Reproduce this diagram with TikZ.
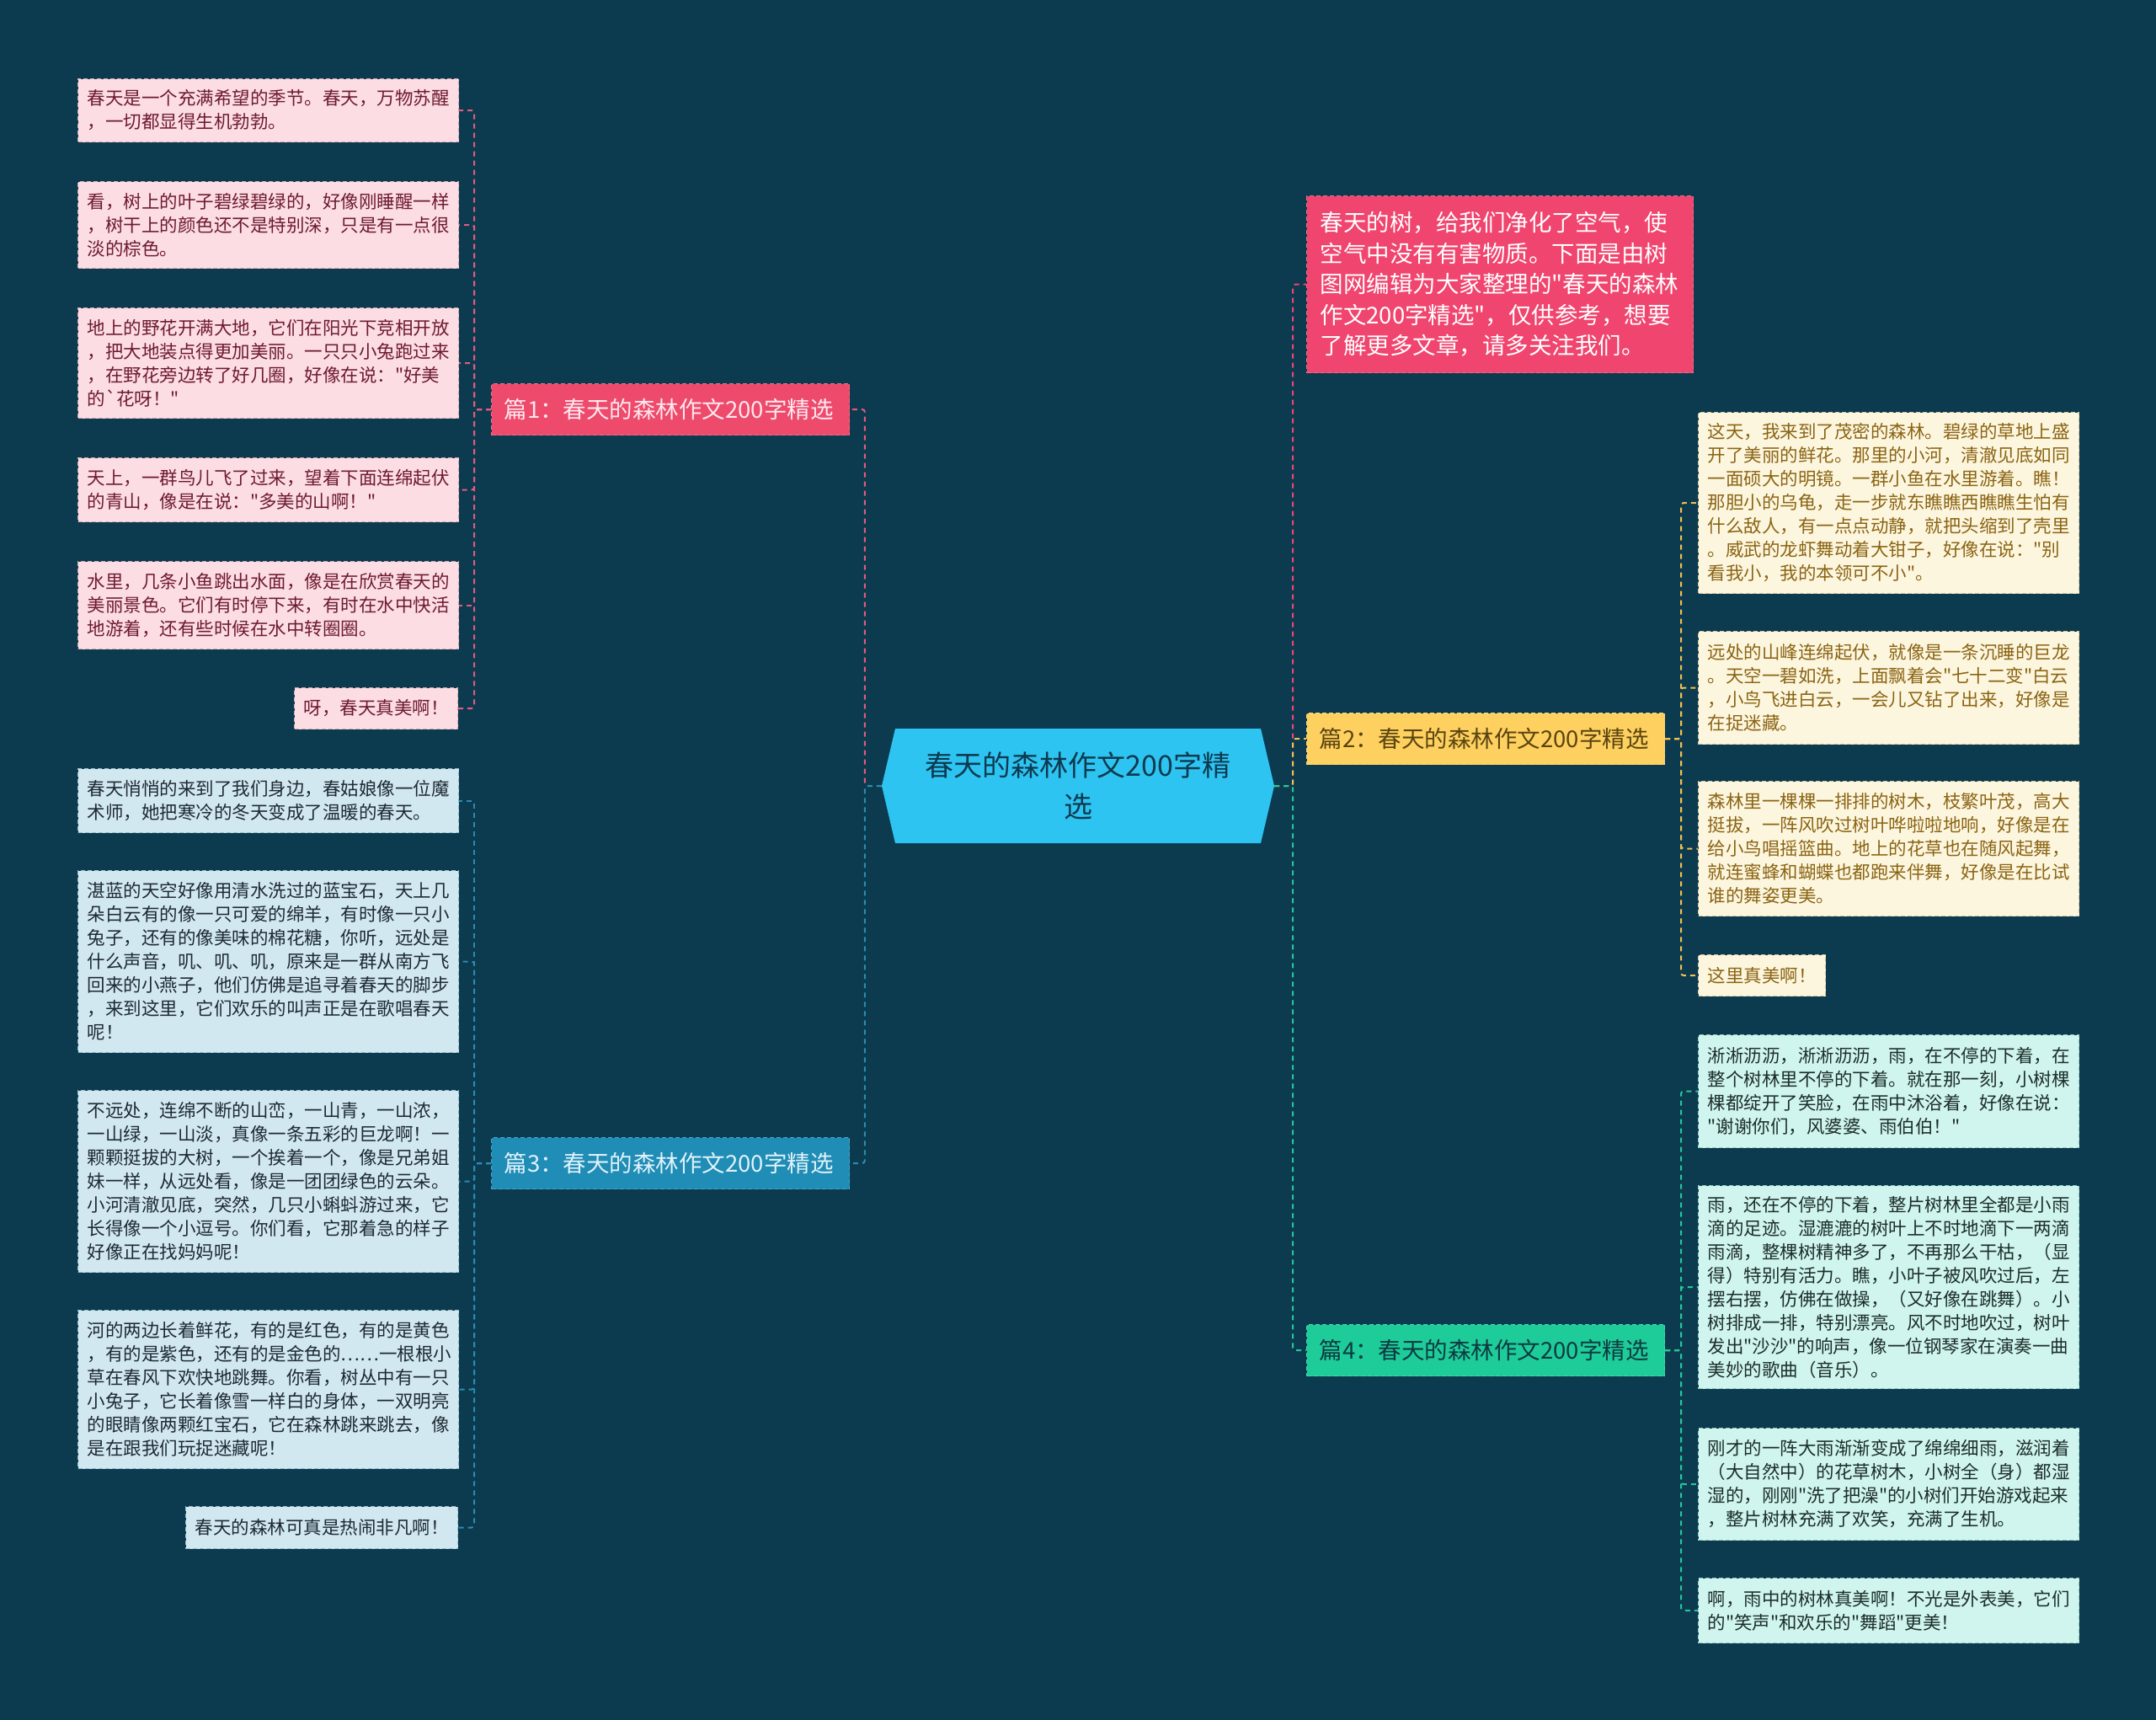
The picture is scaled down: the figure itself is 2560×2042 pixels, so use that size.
\documentclass[tikz,border=0pt]{standalone}
\usepackage{fontspec}
\setmainfont{Noto Sans CJK SC}[Ligatures=TeXOff]
\usetikzlibrary{calc}
\definecolor{bg}{RGB}{12,58,79}
\definecolor{pinkfill}{RGB}{252,221,227}
\definecolor{pinkedge}{RGB}{214,170,180}
\definecolor{pinktext}{RGB}{110,26,48}
\definecolor{pinkline}{RGB}{226,92,124}
\definecolor{bonefill}{RGB}{238,74,108}
\definecolor{bonetext}{RGB}{255,232,238}
\definecolor{bluefill}{RGB}{210,232,240}
\definecolor{blueedge}{RGB}{150,190,205}
\definecolor{bluetext}{RGB}{30,42,51}
\definecolor{blueline}{RGB}{42,140,176}
\definecolor{bthreefill}{RGB}{31,141,182}
\definecolor{bthreetext}{RGB}{224,242,250}
\definecolor{introfill}{RGB}{240,69,110}
\definecolor{yelfill}{RGB}{253,246,223}
\definecolor{yeledge}{RGB}{215,200,160}
\definecolor{yeltext}{RGB}{138,100,19}
\definecolor{yelline}{RGB}{242,193,78}
\definecolor{btwofill}{RGB}{253,208,95}
\definecolor{btwotext}{RGB}{90,68,16}
\definecolor{grnfill}{RGB}{207,245,238}
\definecolor{grnedge}{RGB}{150,205,195}
\definecolor{grntext}{RGB}{29,45,42}
\definecolor{grnline}{RGB}{37,199,154}
\definecolor{bfourfill}{RGB}{30,204,154}
\definecolor{bfourtext}{RGB}{14,58,64}
\definecolor{centerfill}{RGB}{46,196,242}
\definecolor{centertext}{RGB}{13,58,79}
\tikzset{
  leafbase/.style={anchor=north west, inner xsep=11pt, inner ysep=0pt, align=left,
    text width=430pt, line width=1pt, dash pattern=on 5pt off 3pt,
    font=\fontsize{21.5}{28}\selectfont},
  pinkleaf/.style={leafbase, fill=pinkfill, draw=pinkedge, text=pinktext},
  blueleaf/.style={leafbase, fill=bluefill, draw=blueedge, text=bluetext},
  yelleaf/.style={leafbase, fill=yelfill, draw=yeledge, text=yeltext},
  grnleaf/.style={leafbase, fill=grnfill, draw=grnedge, text=grntext},
  branchbox/.style={anchor=north west, minimum width=425pt, minimum height=61pt,
    inner xsep=15pt, inner ysep=0pt, text width=395pt, align=left,
    line width=1pt, dash pattern=on 5pt off 3pt,
    font=\fontsize{27.5}{33}\selectfont},
  conn/.style={line width=2pt, dash pattern=on 6pt off 5pt, rounded corners=3pt},
}
\begin{document}
\begin{tikzpicture}[x=1pt,y=-1pt]
\fill[bg] (0,0) rectangle (2560,2042);
\useasboundingbox (0,0) rectangle (2560,2042);

% center
\fill[centerfill] (1063,865) -- (1497,865) -- (1513,933) -- (1497,1001) -- (1063,1001) -- (1047,933) -- cycle;
\node[minimum width=466pt, minimum height=136pt, inner sep=0pt, align=center,
  text=centertext, font=\fontsize{34}{49}\selectfont] (center) at (1280,933)
  {春天的森林作文200字精\\选};

% branches
\node[branchbox, fill=bonefill, draw=bonefill!80!white, text=bonetext] (b1) at (583,455) {篇1：春天的森林作文200字精选};
\node[branchbox, fill=bthreefill, draw=bthreefill!80!white, text=bthreetext] (b3) at (583,1350) {篇3：春天的森林作文200字精选};
\node[branchbox, fill=btwofill, draw=btwofill!80!white, text=btwotext] (b2) at (1551,846) {篇2：春天的森林作文200字精选};
\node[branchbox, fill=bfourfill, draw=bfourfill!80!white, text=bfourtext] (b4) at (1551,1572) {篇4：春天的森林作文200字精选};

\node[anchor=north west, minimum width=459pt, minimum height=210pt, inner xsep=16pt, inner ysep=0pt,
  text width=427pt, align=left, fill=introfill, draw=introfill!80!white, line width=1pt,
  dash pattern=on 5pt off 3pt, text=white, font=\fontsize{27.5}{36.5}\selectfont] (intro) at (1551,232)
  {春天的树，给我们净化了空气，使\\空气中没有有害物质。下面是由树\\图网编辑为大家整理的"春天的森林\\作文200字精选"，仅供参考，想要\\了解更多文章，请多关注我们。};

% left leaves, branch 1
\node[pinkleaf, minimum height=75pt] (l1a) at (92,93) {春天是一个充满希望的季节。春天，万物苏醒\\，一切都显得生机勃勃。};
\node[pinkleaf, minimum height=103pt] (l1b) at (92,215) {看，树上的叶子碧绿碧绿的，好像刚睡醒一样\\，树干上的颜色还不是特别深，只是有一点很\\淡的棕色。};
\node[pinkleaf, minimum height=131pt] (l1c) at (92,365) {地上的野花开满大地，它们在阳光下竞相开放\\，把大地装点得更加美丽。一只只小兔跑过来\\，在野花旁边转了好几圈，好像在说："好美\\的`花呀！"};
\node[pinkleaf, minimum height=76pt] (l1d) at (92,543) {天上，一群鸟儿飞了过来，望着下面连绵起伏\\的青山，像是在说："多美的山啊！"};
\node[pinkleaf, minimum height=104pt] (l1e) at (92,666) {水里，几条小鱼跳出水面，像是在欣赏春天的\\美丽景色。它们有时停下来，有时在水中快活\\地游着，还有些时候在水中转圈圈。};
\node[pinkleaf, text width=, minimum height=49pt, anchor=north east] (l1f) at (544,816) {呀，春天真美啊！};

% left leaves, branch 3
\node[blueleaf, minimum height=76pt] (l3a) at (92,912) {春天悄悄的来到了我们身边，春姑娘像一位魔\\术师，她把寒冷的冬天变成了温暖的春天。};
\node[blueleaf, minimum height=216pt] (l3b) at (92,1033) {湛蓝的天空好像用清水洗过的蓝宝石，天上几\\朵白云有的像一只可爱的绵羊，有时像一只小\\兔子，还有的像美味的棉花糖，你听，远处是\\什么声音，叽、叽、叽，原来是一群从南方飞\\回来的小燕子，他们仿佛是追寻着春天的脚步\\，来到这里，它们欢乐的叫声正是在歌唱春天\\呢！};
\node[blueleaf, minimum height=216pt] (l3c) at (92,1294) {不远处，连绵不断的山峦，一山青，一山浓，\\一山绿，一山淡，真像一条五彩的巨龙啊！一\\颗颗挺拔的大树，一个挨着一个，像是兄弟姐\\妹一样，从远处看，像是一团团绿色的云朵。\\小河清澈见底，突然，几只小蝌蚪游过来，它\\长得像一个小逗号。你们看，它那着急的样子\\好像正在找妈妈呢！};
\node[blueleaf, minimum height=188pt] (l3d) at (92,1555) {河的两边长着鲜花，有的是红色，有的是黄色\\，有的是紫色，还有的是金色的……一根根小\\草在春风下欢快地跳舞。你看，树丛中有一只\\小兔子，它长着像雪一样白的身体，一双明亮\\的眼睛像两颗红宝石，它在森林跳来跳去，像\\是在跟我们玩捉迷藏呢！};
\node[blueleaf, text width=, minimum height=50pt, anchor=north east] (l3e) at (544,1788) {春天的森林可真是热闹非凡啊！};

% right leaves, branch 2
\node[yelleaf, minimum height=215pt] (r2a) at (2016,489) {这天，我来到了茂密的森林。碧绿的草地上盛\\开了美丽的鲜花。那里的小河，清澈见底如同\\一面硕大的明镜。一群小鱼在水里游着。瞧！\\那胆小的乌龟，走一步就东瞧瞧西瞧瞧生怕有\\什么敌人，有一点点动静，就把头缩到了壳里\\。威武的龙虾舞动着大钳子，好像在说："别\\看我小，我的本领可不小"。};
\node[yelleaf, minimum height=134pt] (r2b) at (2016,749) {远处的山峰连绵起伏，就像是一条沉睡的巨龙\\。天空一碧如洗，上面飘着会"七十二变"白云\\，小鸟飞进白云，一会儿又钻了出来，好像是\\在捉迷藏。};
\node[yelleaf, minimum height=160pt] (r2c) at (2016,927) {森林里一棵棵一排排的树木，枝繁叶茂，高大\\挺拔，一阵风吹过树叶哗啦啦地响，好像是在\\给小鸟唱摇篮曲。地上的花草也在随风起舞，\\就连蜜蜂和蝴蝶也都跑来伴舞，好像是在比试\\谁的舞姿更美。};
\node[yelleaf, text width=, minimum height=49pt] (r2d) at (2016,1133) {这里真美啊！};

% right leaves, branch 4
\node[grnleaf, minimum height=134pt] (r4a) at (2016,1228) {淅淅沥沥，淅淅沥沥，雨，在不停的下着，在\\整个树林里不停的下着。就在那一刻，小树棵\\棵都绽开了笑脸，在雨中沐浴着，好像在说：\\"谢谢你们，风婆婆、雨伯伯！"};
\node[grnleaf, minimum height=241pt] (r4b) at (2016,1407) {雨，还在不停的下着，整片树林里全都是小雨\\滴的足迹。湿漉漉的树叶上不时地滴下一两滴\\雨滴，整棵树精神多了，不再那么干枯，（显\\得）特别有活力。瞧，小叶子被风吹过后，左\\摆右摆，仿佛在做操，（又好像在跳舞）。小\\树排成一排，特别漂亮。风不时地吹过，树叶\\发出"沙沙"的响声，像一位钢琴家在演奏一曲\\美妙的歌曲（音乐）。};
\node[grnleaf, minimum height=133pt] (r4c) at (2016,1695) {刚才的一阵大雨渐渐变成了绵绵细雨，滋润着\\（大自然中）的花草树木，小树全（身）都湿\\湿的，刚刚"洗了把澡"的小树们开始游戏起来\\，整片树林充满了欢笑，充满了生机。};
\node[grnleaf, minimum height=77pt] (r4d) at (2016,1873) {啊，雨中的树林真美啊！不光是外表美，它们\\的"笑声"和欢乐的"舞蹈"更美！};

% connectors: center to branches
\draw[conn, pinkline] (center.west) -- ++(-20,0) |- (b1.east);
\draw[conn, blueline] (center.west) -- ++(-20,0) |- (b3.east);
\draw[conn, introfill] (center.east) -- ++(22,0) |- (intro.west);
\draw[conn, yelline] (center.east) -- ++(22,0) |- (b2.west);
\draw[conn, grnline] (center.east) -- ++(22,0) |- (b4.west);

% branch 1 leaves
\foreach \n in {l1a,l1b,l1c,l1d,l1e,l1f}
  \draw[conn, pinkline] (b1.west) -- ++(-20,0) |- (\n.east);
% branch 3 leaves
\foreach \n in {l3a,l3b,l3c,l3d,l3e}
  \draw[conn, blueline] (b3.west) -- ++(-20,0) |- (\n.east);
% branch 2 leaves
\foreach \n in {r2a,r2b,r2c,r2d}
  \draw[conn, yelline] (b2.east) -- ++(19,0) |- (\n.west);
% branch 4 leaves
\foreach \n in {r4a,r4b,r4c,r4d}
  \draw[conn, grnline] (b4.east) -- ++(19,0) |- (\n.west);
\end{tikzpicture}
\end{document}
